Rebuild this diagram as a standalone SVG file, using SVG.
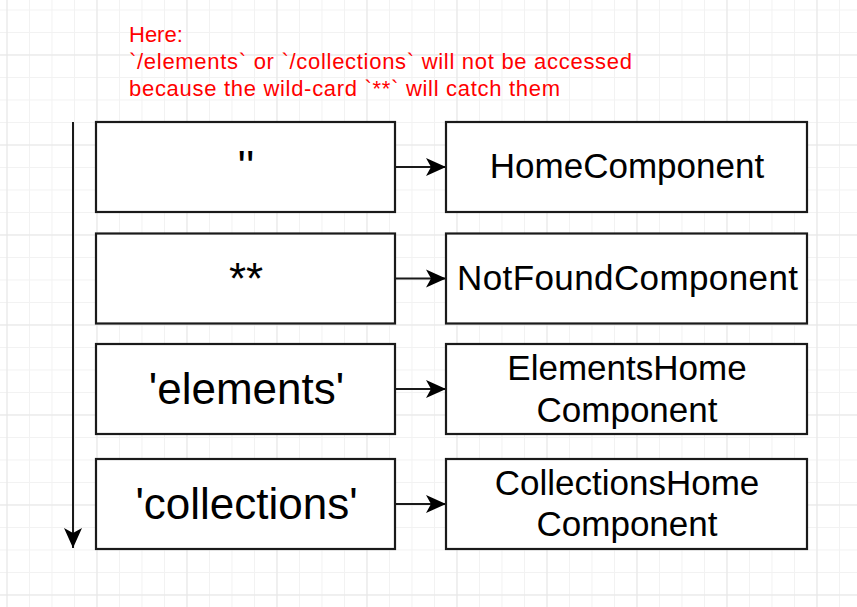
<svg xmlns="http://www.w3.org/2000/svg" width="857" height="607" viewBox="0 0 857 607">
  <style>
    .box { fill: #ffffff; stroke: #1a1a1a; stroke-width: 2.2; }
    .lbl { font-family: "Liberation Sans", Arial, Helvetica, sans-serif; fill: #000000; text-anchor: middle; }
    .big { font-size: 44px; }
    .mid { font-size: 35px; }
    .note { font-family: "Liberation Sans", Arial, Helvetica, sans-serif; font-size: 22px; fill: #ff0000; }
    .conn { stroke: #1a1a1a; stroke-width: 2; fill: none; }
  </style>
  <defs>
    <pattern id="minor" patternUnits="userSpaceOnUse" x="6.5" y="9.5" width="22.5" height="22.5">
      <rect x="0" y="0" width="1" height="22.5" fill="#f2f2f2"/>
      <rect x="0" y="0" width="22.5" height="1" fill="#f2f2f2"/>
    </pattern>
    <pattern id="major" patternUnits="userSpaceOnUse" x="6.5" y="54.5" width="90" height="90">
      <rect x="0" y="0" width="1" height="90" fill="#e6e6e6"/>
      <rect x="0" y="0" width="90" height="1" fill="#e6e6e6"/>
    </pattern>
    <marker id="arrow" viewBox="0 0 20 20" refX="20" refY="10" markerWidth="20" markerHeight="20" markerUnits="userSpaceOnUse" orient="auto">
      <path d="M 0 1 L 20 10 L 0 19 L 5 10 Z" fill="#000000"/>
    </marker>
  </defs>

  <rect width="857" height="607" fill="#ffffff"/>
  <rect width="857" height="607" fill="url(#minor)"/>
  <rect width="857" height="607" fill="url(#major)"/>

  <g id="note">
    <text class="note" x="129" y="41.5">Here:</text>
    <text class="note" x="129" y="68.5" textLength="503" lengthAdjust="spacing">`/elements` or `/collections` will not be accessed</text>
    <text class="note" x="129" y="95.5" textLength="431" lengthAdjust="spacing">because the wild-card `**` will catch them</text>
  </g>

  <g id="connectors">
    <line class="conn" x1="73" y1="122" x2="73" y2="548" marker-end="url(#arrow)"/>
    <line class="conn" x1="395" y1="167" x2="446" y2="167" marker-end="url(#arrow)"/>
    <line class="conn" x1="395" y1="278.5" x2="446" y2="278.5" marker-end="url(#arrow)"/>
    <line class="conn" x1="395" y1="389" x2="446" y2="389" marker-end="url(#arrow)"/>
    <line class="conn" x1="395" y1="504" x2="446" y2="504" marker-end="url(#arrow)"/>
  </g>

  <g id="route-empty">
    <rect class="box" x="96" y="122" width="299" height="90"/>
    <text class="lbl big" x="246" y="182">''</text>
  </g>
  <g id="route-wildcard">
    <rect class="box" x="96" y="233.5" width="299" height="90"/>
    <text class="lbl big" x="246" y="294">**</text>
  </g>
  <g id="route-elements">
    <rect class="box" x="96" y="344" width="299" height="90"/>
    <text class="lbl big" x="246.5" y="404">'elements'</text>
  </g>
  <g id="route-collections">
    <rect class="box" x="96" y="459" width="299" height="90"/>
    <text class="lbl big" x="246.5" y="519">'collections'</text>
  </g>

  <g id="home-component">
    <rect class="box" x="446" y="122" width="361" height="90"/>
    <text class="lbl mid" x="627" y="178">HomeComponent</text>
  </g>
  <g id="notfound-component">
    <rect class="box" x="446" y="233.5" width="361" height="90"/>
    <text class="lbl mid" x="627.5" y="290" textLength="341" lengthAdjust="spacing">NotFoundComponent</text>
  </g>
  <g id="elementshome-component">
    <rect class="box" x="446" y="344" width="361" height="90"/>
    <text class="lbl mid" x="627" y="380">ElementsHome</text>
    <text class="lbl mid" x="627" y="422">Component</text>
  </g>
  <g id="collectionshome-component">
    <rect class="box" x="446" y="459" width="361" height="90"/>
    <text class="lbl mid" x="627" y="495">CollectionsHome</text>
    <text class="lbl mid" x="627" y="536">Component</text>
  </g>
</svg>
